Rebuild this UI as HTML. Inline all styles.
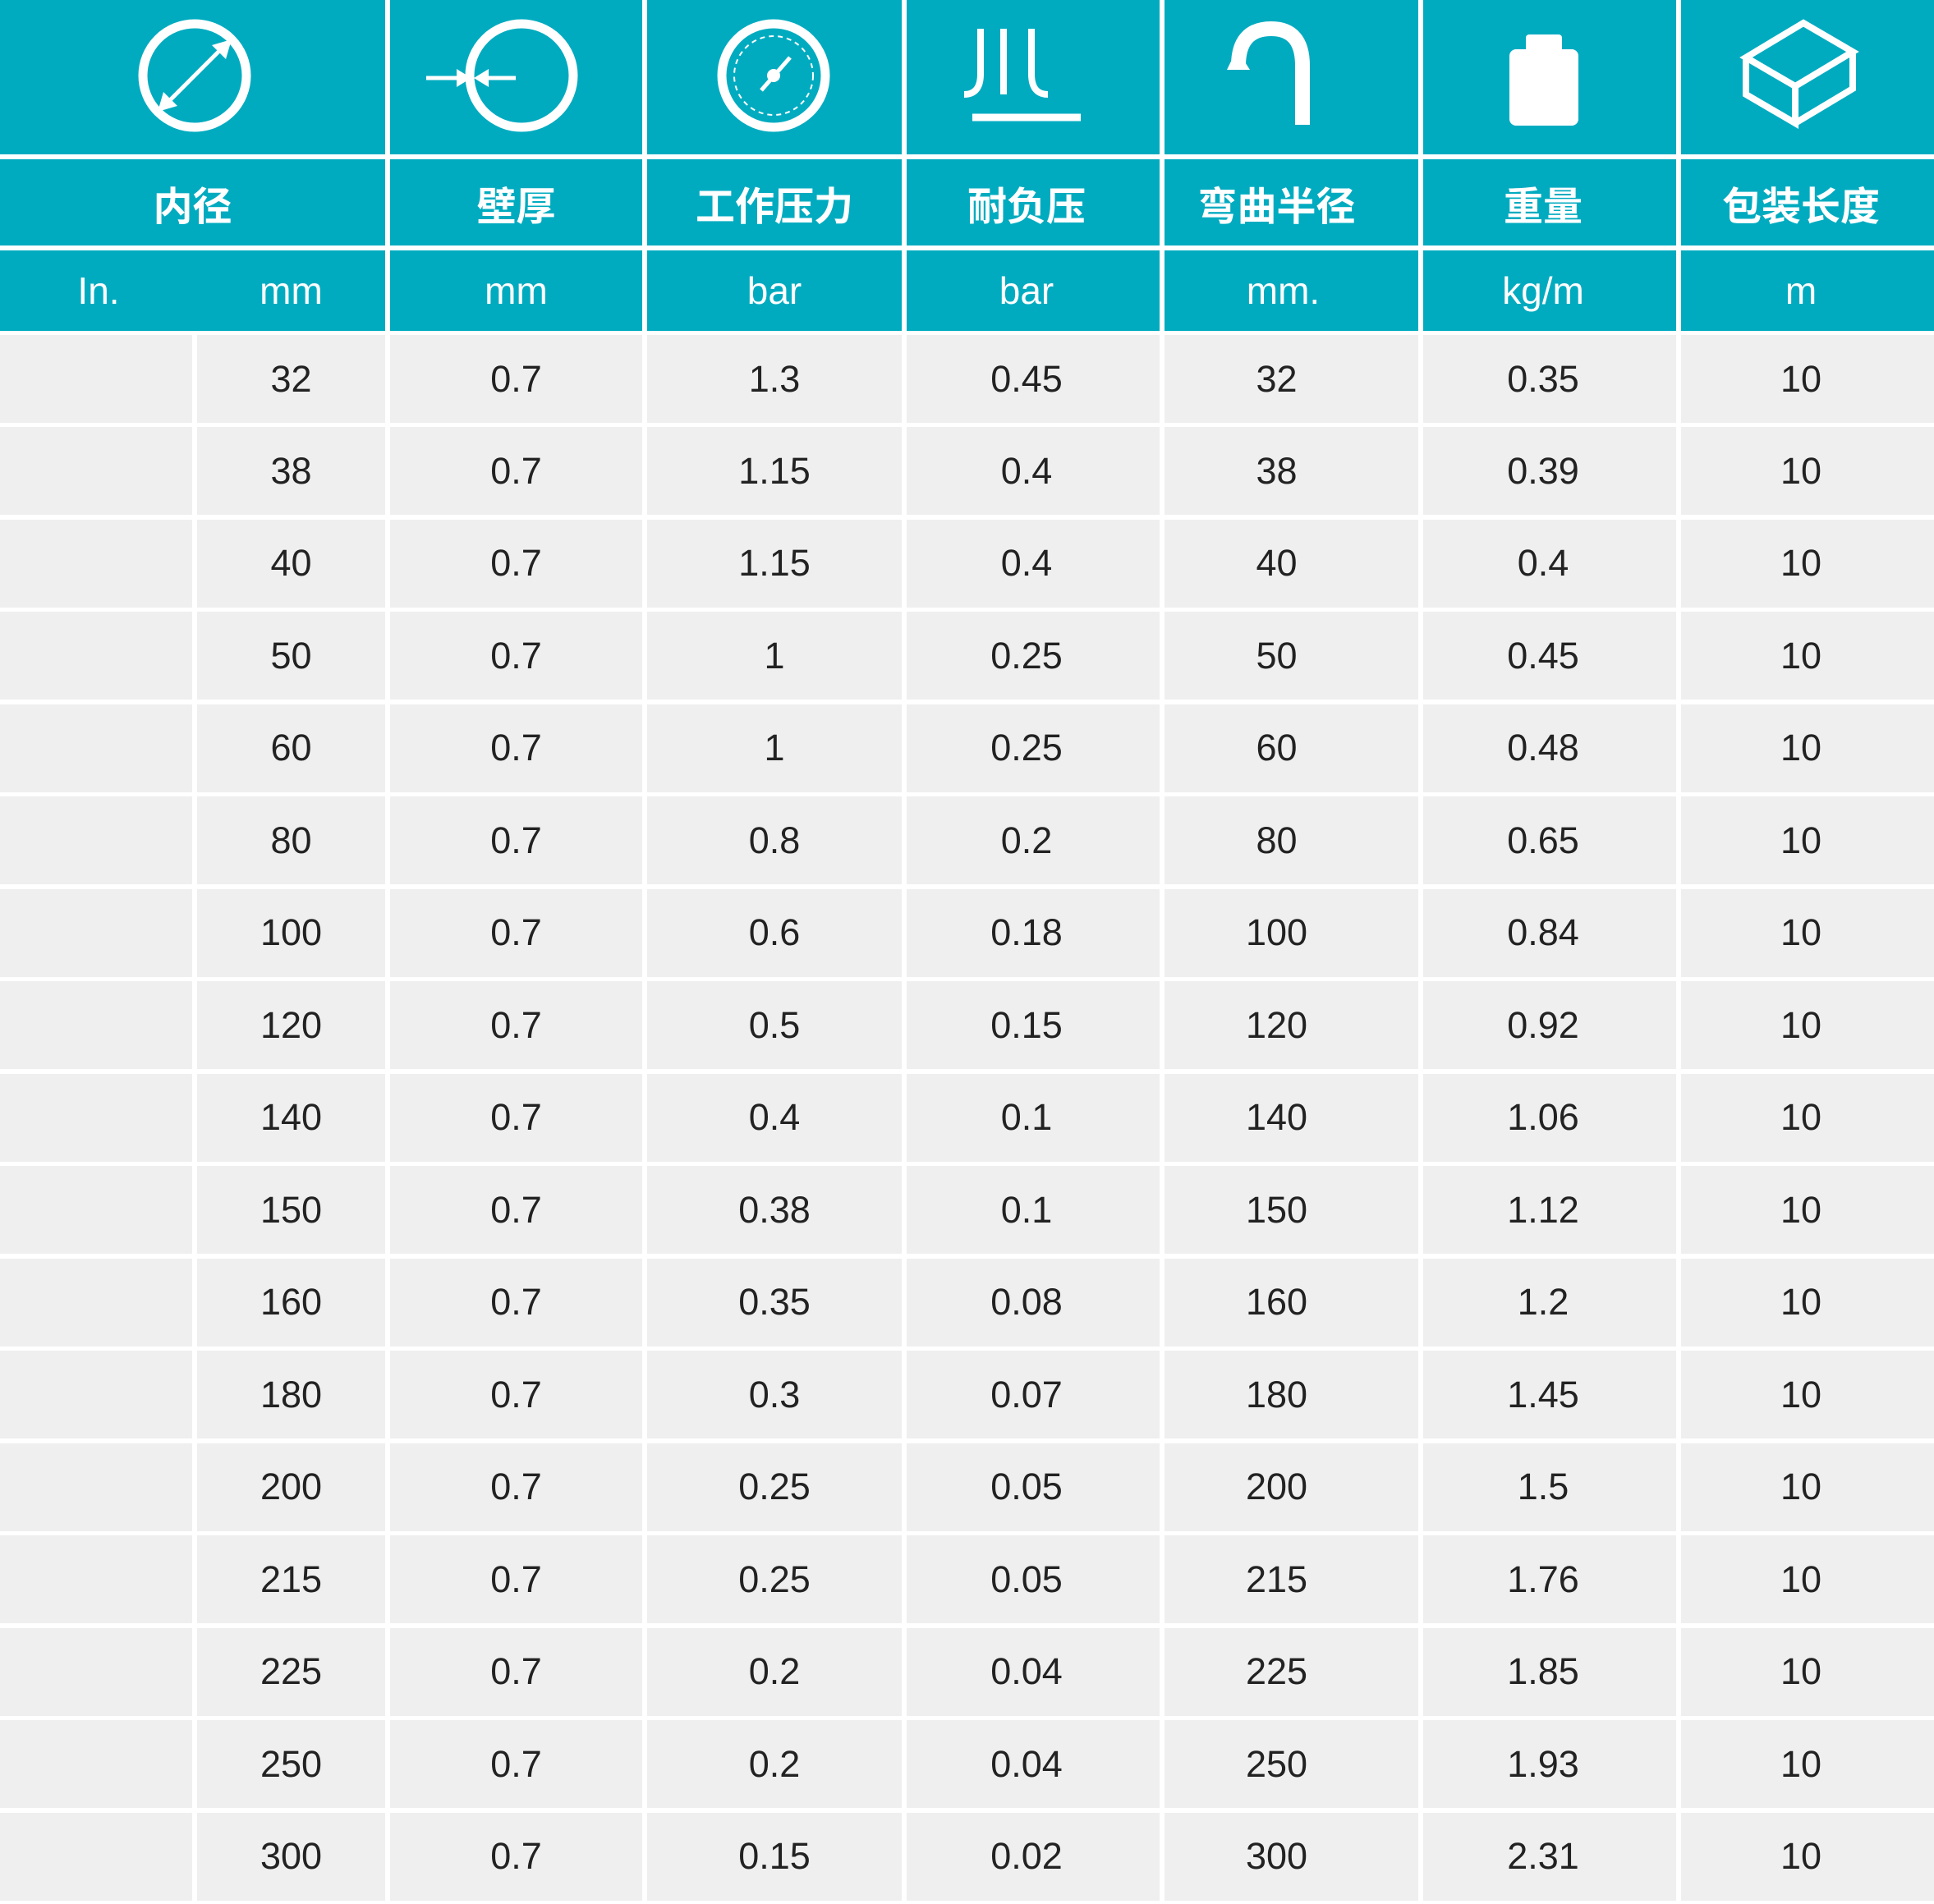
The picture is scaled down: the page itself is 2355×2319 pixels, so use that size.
<!DOCTYPE html>
<html><head><meta charset="utf-8"><style>
*{margin:0;padding:0;box-sizing:border-box}
body{width:2355px;height:2319px;background:#fff;position:relative;overflow:hidden;font-family:"Liberation Sans","Noto Sans CJK SC",sans-serif}
.c{position:absolute;display:flex;align-items:center;justify-content:center}
.t{background:#00abc0;color:#fff}
.h{font-weight:bold;font-size:48px;font-family:"Noto Sans CJK SC",sans-serif}
.u{font-size:46px}
.d{background:#efefef;color:#222;font-size:45px}
</style></head><body>
<svg width="2355" height="188" style="position:absolute;left:0;top:0">
<rect x="0" y="0" width="469" height="188" fill="#00abc0"/>
<rect x="475" y="0" width="307" height="188" fill="#00abc0"/>
<rect x="788" y="0" width="310" height="188" fill="#00abc0"/>
<rect x="1104" y="0" width="308" height="188" fill="#00abc0"/>
<rect x="1418" y="0" width="309" height="188" fill="#00abc0"/>
<rect x="1733" y="0" width="308" height="188" fill="#00abc0"/>
<rect x="2047" y="0" width="308" height="188" fill="#00abc0"/>
<g stroke="#fff" fill="none" stroke-width="11">
<circle cx="237" cy="92" r="63"/>
<line x1="200" y1="129" x2="274" y2="55" stroke-width="5"/>
<circle cx="635" cy="92" r="63"/>
<line x1="519" y1="95" x2="568" y2="95" stroke-width="5"/>
<line x1="583" y1="95" x2="628" y2="95" stroke-width="5"/>
<circle cx="942" cy="92" r="63"/>
<circle cx="942" cy="92" r="48" stroke-width="2" stroke-dasharray="6 5"/>
<line x1="927" y1="110" x2="962" y2="70" stroke-width="5"/>
<path d="M1194 35 v55 q0 25 -20 25 M1222 35 v80 M1256 35 v55 q0 25 20 25" stroke-width="8"/>
<line x1="1184" y1="143" x2="1316" y2="143" stroke-width="9"/>
<path d="M1508 80 q0-45 40-45 q38 0 38 45 v72" stroke-width="18"/>
<path d="M2126 70 l70-42 l60 35 l-70 42 z M2126 70 v45 l60 35 v-45 M2256 63 v45 l-70 42" stroke-width="8"/>
</g>
<g fill="#fff">
<polygon points="282,48 258,55 275,72"/><polygon points="192,136 199,112 216,129"/>
<polygon points="574,95 556,84 556,106"/><polygon points="577,95 595,84 595,106"/>
<circle cx="942" cy="92" r="8"/>
<polygon points="1494,85 1522,85 1506,60"/>
<rect x="1838" y="60" width="84" height="93" rx="8"/>
<rect x="1858" y="42" width="44" height="25" rx="4"/>
</g>
</svg>
<div class="c t h" style="left:0;top:194px;width:469px;height:105px">内径</div>
<div class="c t h" style="left:475px;top:194px;width:307px;height:105px">壁厚</div>
<div class="c t h" style="left:788px;top:194px;width:310px;height:105px">工作压力</div>
<div class="c t h" style="left:1104px;top:194px;width:308px;height:105px;padding-right:16px">耐负压</div>
<div class="c t h" style="left:1418px;top:194px;width:309px;height:105px;padding-right:36px">弯曲半径</div>
<div class="c t h" style="left:1733px;top:194px;width:308px;height:105px;padding-right:16px">重量</div>
<div class="c t h" style="left:2047px;top:194px;width:308px;height:105px;padding-right:16px">包装长度</div>
<div class="c t" style="left:0;top:305px;width:469px;height:98px"></div>
<div class="c u" style="left:0;top:305px;width:240px;height:98px;color:#fff">In.</div>
<div class="c u" style="left:240px;top:305px;width:229px;height:98px;color:#fff">mm</div>
<div class="c t u" style="left:475px;top:305px;width:307px;height:98px">mm</div>
<div class="c t u" style="left:788px;top:305px;width:310px;height:98px">bar</div>
<div class="c t u" style="left:1104px;top:305px;width:308px;height:98px;padding-right:16px">bar</div>
<div class="c t u" style="left:1418px;top:305px;width:309px;height:98px;padding-right:20px">mm.</div>
<div class="c t u" style="left:1733px;top:305px;width:308px;height:98px;padding-right:16px">kg/m</div>
<div class="c t u" style="left:2047px;top:305px;width:308px;height:98px;padding-right:16px">m</div>
<div id="rows"></div>
<script>
var data=[["32","1.3","0.45","0.35"],["38","1.15","0.4","0.39"],["40","1.15","0.4","0.4"],["50","1","0.25","0.45"],["60","1","0.25","0.48"],["80","0.8","0.2","0.65"],["100","0.6","0.18","0.84"],["120","0.5","0.15","0.92"],["140","0.4","0.1","1.06"],["150","0.38","0.1","1.12"],["160","0.35","0.08","1.2"],["180","0.3","0.07","1.45"],["200","0.25","0.05","1.5"],["215","0.25","0.05","1.76"],["225","0.2","0.04","1.85"],["250","0.2","0.04","1.93"],["300","0.15","0.02","2.31"]];
var cols=[[0,234,0],[240,229,0],[475,307,0],[788,310,0],[1104,308,16],[1418,309,36],[1733,308,16],[2047,308,16]];
var h="";
data.forEach(function(r,i){var top=408+i*112.47;var v=["",r[0],"0.7",r[1],r[2],r[0],r[3],"10"];
cols.forEach(function(c,j){h+='<div class="c d" style="left:'+c[0]+'px;top:'+top+'px;width:'+c[1]+'px;height:107px;padding-right:'+c[2]+'px">'+v[j]+'</div>';});});
document.getElementById("rows").innerHTML=h;
</script>
</body></html>
